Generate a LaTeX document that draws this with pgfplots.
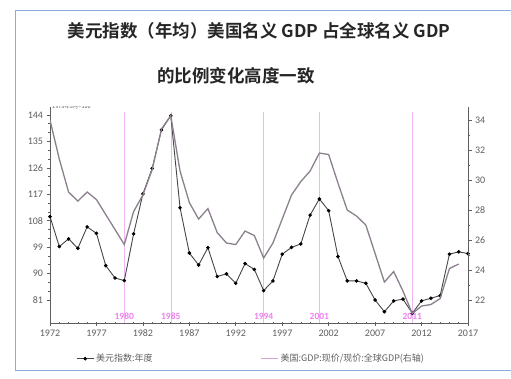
\documentclass[border=0pt]{standalone}
\usepackage{fontspec}
\setmainfont{Carlito}
\newfontfamily\cjk{Noto Sans CJK SC}[BoldFont={Noto Sans CJK SC Bold}]
\usepackage{pgfplots}
\usepackage{pgfplotstable}
\pgfplotsset{compat=1.18}
\definecolor{axgray}{RGB}{95,95,95}
\definecolor{dxy}{RGB}{70,70,70}
\definecolor{gdp}{RGB}{140,128,142}
\definecolor{vpink}{RGB}{240,180,240}
\definecolor{lpink}{RGB}{238,130,238}
\definecolor{legpink}{RGB}{215,160,215}
\definecolor{frameblue}{RGB}{140,172,218}

\pgfplotstableread{
year dxy
1972 109.4
1973 99.2
1974 101.8
1975 98.6
1976 105.9
1977 103.7
1978 92.7
1979 88.5
1980 87.6
1981 103.5
1982 117.1
1983 125.8
1984 138.9
1985 143.7
1986 112.4
1987 97.0
1988 92.9
1989 98.8
1990 89.0
1991 89.9
1992 86.7
1993 93.4
1994 91.4
1995 84.2
1996 87.5
1997 96.6
1998 98.9
1999 100.1
2000 109.9
2001 115.4
2002 111.4
2003 95.8
2004 87.5
2005 87.5
2006 86.7
2007 81.0
2008 77.0
2009 80.7
2010 81.3
2011 76.5
2012 80.7
2013 81.6
2014 82.5
2015 96.6
2016 97.4
2017 96.8
}\dxytable

\pgfplotstableread{
year share
1972 34.0
1973 31.4
1974 29.2
1975 28.6
1976 29.2
1977 28.7
1978 27.7
1979 26.7
1980 25.7
1981 27.9
1982 29.0
1983 30.7
1984 33.4
1985 34.3
1986 30.6
1987 28.5
1988 27.4
1989 28.1
1990 26.5
1991 25.8
1992 25.7
1993 26.6
1994 26.3
1995 24.8
1996 25.8
1997 27.4
1998 29.0
1999 29.9
2000 30.6
2001 31.8
2002 31.7
2003 29.8
2004 28.0
2005 27.6
2006 27.0
2007 25.1
2008 23.2
2009 23.9
2010 22.6
2011 21.1
2012 21.6
2013 21.7
2014 22.1
2015 24.1
2016 24.4
}\gdptable

\pgfplotsset{
  common/.style={
    scale only axis, width=418pt, height=216pt,
    at={(50pt,55pt)}, anchor=south west,
    xmin=1972, xmax=2017,
    axis line style={-, axgray, line width=0.8pt},
    tick align=outside,
    tick style={axgray, line width=0.6pt},
    major tick length=3.5pt, minor tick length=2pt,
    ticklabel style={font=\fontsize{10}{10}\selectfont, text=axgray},
    /pgf/number format/assume math mode=true,
    /pgf/number format/set thousands separator={},
  }
}

\begin{document}
\begin{tikzpicture}
\useasboundingbox (0pt,0pt) rectangle (511pt,378pt);
\fill[white] (0pt,0pt) rectangle (511pt,378pt);
\draw[frameblue, line width=0.9pt] (511pt,368pt) -- (15pt,368pt) -- (15pt,8pt) -- (511pt,8pt);
\node[font=\cjk\bfseries\fontsize{17.5}{18}\selectfont, text=black!85] at (259pt,347pt) {美元指数（年均）美国名义 GDP 占全球名义 GDP};
\node[font=\cjk\bfseries\fontsize{17.5}{18}\selectfont, text=black!85] at (236pt,302pt) {的比例变化高度一致};

\begin{axis}[common,
  ymin=73.17, ymax=146.7,
  axis x line*=bottom, axis y line*=left,
  xtick={1972,1977,...,2017}, minor x tick num=4,
  x tick style={axgray, line width=0.6pt, yshift=0.8pt},
  ytick={81,90,...,144}, minor y tick num=2,
]
\addplot[vpink, line width=0.5pt] coordinates {(1980,73.17) (1980,145)};
\addplot[vpink, line width=0.5pt] coordinates {(1985,73.17) (1985,145)};
\addplot[vpink, line width=0.5pt] coordinates {(1995,73.17) (1995,145)};
\addplot[vpink, line width=0.5pt] coordinates {(2001,73.17) (2001,145)};
\addplot[vpink, line width=0.5pt] coordinates {(2011,73.17) (2011,145)};
\addplot[dxy, line width=0.9pt, mark=*, mark size=1.3pt, mark options={fill=black, draw=black}] table[x=year, y=dxy] {\dxytable};
\node[font=\bfseries\fontsize{9.5}{9.5}\selectfont, text=lpink] at (axis cs:1980,75.3) {1980};
\node[font=\bfseries\fontsize{9.5}{9.5}\selectfont, text=lpink] at (axis cs:1985,75.3) {1985};
\node[font=\bfseries\fontsize{9.5}{9.5}\selectfont, text=lpink] at (axis cs:1995,75.3) {1994};
\node[font=\bfseries\fontsize{9.5}{9.5}\selectfont, text=lpink] at (axis cs:2001,75.3) {2001};
\node[font=\bfseries\fontsize{9.5}{9.5}\selectfont, text=lpink] at (axis cs:2011,75.3) {2011};
\node[font=\cjk\fontsize{5.5}{6}\selectfont, text=axgray, anchor=west, inner sep=0pt] at ([xshift=2pt,yshift=0.5pt]rel axis cs:0,1) {1973年3月=100};
\end{axis}

\begin{axis}[common,
  ymin=20.47, ymax=34.87,
  axis y line*=right, axis x line=none,
  ytick={22,24,...,34}, minor y tick num=1,
  legend columns=2,
  legend style={at={(0.055,-0.165)}, anchor=west, draw=none, fill=none,
    font=\cjk\fontsize{9}{9}\selectfont, text=axgray,
    /tikz/every even column/.append style={column sep=106pt}},
]
\addlegendimage{dxy, line width=0.9pt, mark=*, mark size=1.3pt, mark options={fill=black, draw=black}}
\addlegendentry{美元指数:年度}
\addplot[gdp, line width=1.3pt, forget plot] table[x=year, y=share] {\gdptable};
\addlegendimage{legpink, line width=1pt}
\addlegendentry{美国:GDP:现价/现价:全球GDP(右轴)}
\node[font=\fontsize{7}{7}\selectfont, text=axgray, anchor=south] at ([xshift=-5pt,yshift=0pt]rel axis cs:1,1) {\%};
\end{axis}
\end{tikzpicture}
\end{document}
